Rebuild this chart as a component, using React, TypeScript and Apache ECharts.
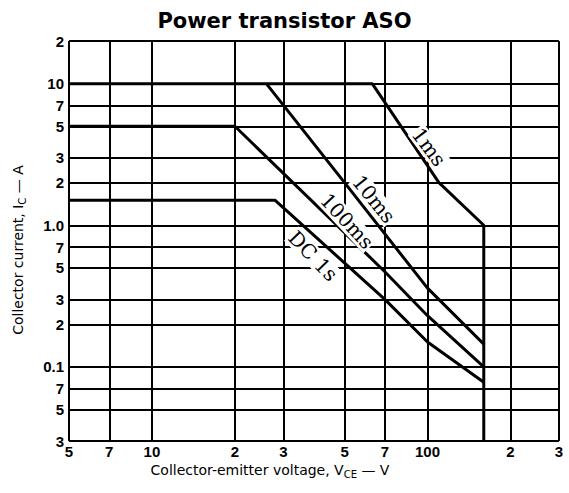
import React, { useEffect, useRef } from 'react';
import * as echarts from 'echarts';

// Tick values (log scale) and their printed labels
const xTickValues = [5, 7, 10, 20, 30, 50, 70, 100, 200, 300];
const xTickLabels = ['5', '7', '10', '2', '3', '5', '7', '100', '2', '3'];
const yTickValues = [0.03, 0.05, 0.07, 0.1, 0.2, 0.3, 0.5, 0.7, 1, 2, 3, 5, 7, 10, 20];
const yTickLabels = ['3', '5', '7', '0.1', '2', '3', '5', '7', '1.0', '2', '3', '5', '7', '10', '2'];

// Safe operating area curves: [V_CE (V), I_C (A)]
const curve1ms = [[5, 10], [63, 10], [110, 2], [160, 1], [160, 0.03]];
const curve10ms = [[26, 10], [50, 2], [100, 0.36], [160, 0.145]];
const curve100ms = [[5, 5], [20, 5], [70, 0.47], [100, 0.23], [160, 0.1]];
const curveDC = [[5, 1.5], [28, 1.5], [70, 0.3], [100, 0.15], [160, 0.078]];

const curveNames = ['1ms', '10ms', '100ms', 'DC 1s'];

export default function App() {
  const ref = useRef<HTMLDivElement>(null);

  useEffect(() => {
    document.body.style.margin = '0';
    const chart = echarts.init(ref.current as HTMLDivElement, undefined, { renderer: 'svg' });
    const sans = 'Liberation Sans, Arial, Helvetica, sans-serif';
    const wide = 'DejaVu Sans, Liberation Sans, sans-serif';
    const tickLabelStyle = { fontSize: 15, fontWeight: 'bold', fontFamily: sans, color: '#000' };
    const gridLine = { color: '#000', width: 2, type: 'solid' };

    const markData: any[] = [
      ...xTickValues.map((v, i) => ({
        xAxis: v,
        label: { show: true, formatter: xTickLabels[i], position: 'start', distance: 3, ...tickLabelStyle },
      })),
      ...yTickValues.map((v, i) => ({
        yAxis: v,
        label: { show: true, formatter: yTickLabels[i], position: 'start', distance: 5, ...tickLabelStyle },
      })),
    ];

    const mk = (name: string, data: number[][]) => ({
      type: 'line',
      name,
      data,
      showSymbol: false,
      symbol: 'none',
      silent: true,
      z: 3,
      lineStyle: { color: '#000', width: 3 },
    });

    const labelPos = [
      [429, 147, -53],
      [374, 199, -51],
      [347, 221, -47],
      [313, 256, -46],
    ];

    const nameStyle = (pad: number[]) => ({
      fontSize: 14,
      fontFamily: wide,
      color: '#000',
      lineHeight: 19,
      padding: pad,
      rich: { sub: { fontSize: 10, fontFamily: wide, color: '#000', verticalAlign: 'bottom' } },
    });

    chart.setOption({
      animation: false,
      title: {
        text: 'Power transistor ASO',
        left: 'center',
        top: 5,
        textStyle: { fontSize: 21, fontWeight: 'bold', fontFamily: wide, color: '#000' },
      },
      grid: { left: 64, right: 10, top: 41, bottom: 52 },
      xAxis: {
        type: 'log',
        logBase: 10,
        min: 5,
        max: 300,
        name: 'Collector-emitter voltage, V{sub|CE} — V',
        nameLocation: 'middle',
        nameGap: 19,
        nameTextStyle: nameStyle([0, 88, 0, 0]),
        axisLine: { show: false },
        axisTick: { show: false },
        axisLabel: { show: false },
        splitLine: { show: false },
      },
      yAxis: {
        type: 'log',
        logBase: 10,
        min: 0.03,
        max: 20,
        name: 'Collector current, I{sub|C} — A',
        nameLocation: 'middle',
        nameGap: 42,
        nameTextStyle: nameStyle([0, 18, 0, 0]),
        axisLine: { show: false },
        axisTick: { show: false },
        axisLabel: { show: false },
        splitLine: { show: false },
      },
      series: [
        {
          ...mk(curveNames[0], curve1ms),
          markLine: {
            silent: true,
            symbol: ['none', 'none'],
            lineStyle: gridLine,
            data: markData,
          },
        },
        mk(curveNames[1], curve10ms),
        mk(curveNames[2], curve100ms),
        mk(curveNames[3], curveDC),
      ],
      graphic: curveNames.map((t, i) => ({
        type: 'text',
        x: labelPos[i][0],
        y: labelPos[i][1],
        rotation: (labelPos[i][2] * Math.PI) / 180,
        z: 100,
        style: {
          text: t,
          fontFamily: 'DejaVu Serif, Liberation Serif, serif',
          fontSize: 20,
          fill: '#000',
          align: 'center',
          verticalAlign: 'middle',
          backgroundColor: '#fff',
          padding: [0, 1],
        },
      })),
    });

    return () => chart.dispose();
  }, []);

  return <div ref={ref} style={{ position: 'absolute', left: 0, top: 0, width: 569, height: 493 }} />;
}
